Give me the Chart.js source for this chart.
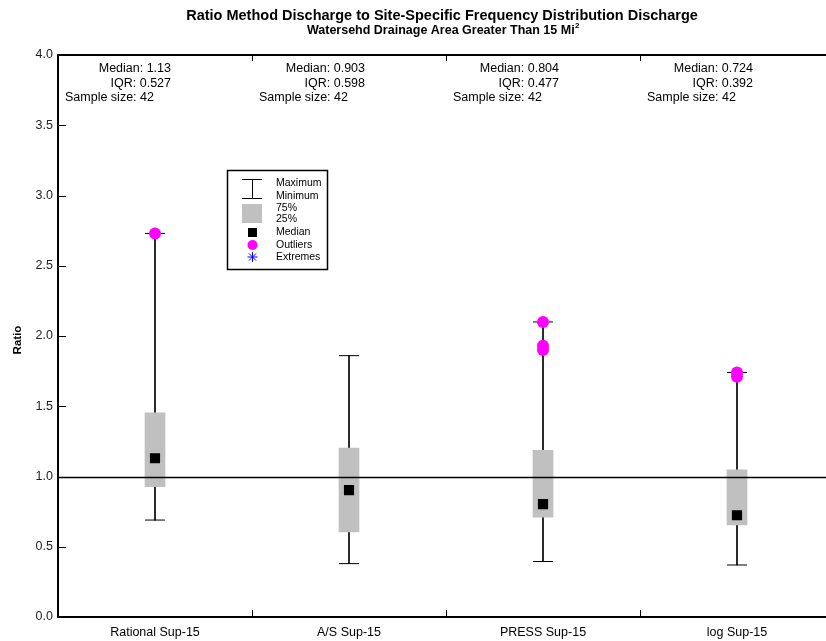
<!DOCTYPE html>
<html><head><meta charset="utf-8">
<script src="https://cdn.jsdelivr.net/npm/chart.js@4.4.0/dist/chart.umd.min.js"></script>
<style>
html,body{margin:0;padding:0;overflow:hidden;background:#fff;width:826px;height:641px}
#wrap{position:absolute;left:0;top:0;width:860px;height:641px}
</style></head>
<body><div id="wrap"><canvas id="c" width="860" height="641"></canvas></div>
<script>
const categories = ['Rational Sup-15', 'A/S Sup-15', 'PRESS Sup-15', 'log Sup-15'];
const q1Values = [0.927, 0.605, 0.710, 0.655];
const q3Values = [1.454, 1.203, 1.187, 1.047];
const medianValues = [1.13, 0.903, 0.804, 0.724];
const minValues = [0.69, 0.38, 0.395, 0.37];
const maxValues = [2.73, 1.86, 2.10, 1.74];
const outlierValues = [[2.73], [], [2.10, 1.93, 1.90], [1.74, 1.71]];
const medianLabels = ['1.13', '0.903', '0.804', '0.724'];
const iqrLabels = ['0.527', '0.598', '0.477', '0.392'];
const sampleSizes = [42, 42, 42, 42];
const yMin = 0, yMax = 4, yStep = 0.5;
const referenceValue = 1.0;
const titleText = 'Ratio Method Discharge to Site-Specific Frequency Distribution Discharge';
const subtitleText = 'Watersehd Drainage Area Greater Than 15 Mi';
const subtitleSup = '2';
const yTitle = 'Ratio';
const legendLabels = ['Maximum', 'Minimum', '75%', '25%', 'Median', 'Outliers', 'Extremes'];

const FONT = '"Liberation Sans", Arial, sans-serif';

const capData = [];
categories.forEach((c, i) => { capData.push({x: c, y: minValues[i]}); capData.push({x: c, y: maxValues[i]}); });
const outlierData = [];
categories.forEach((c, i) => outlierValues[i].forEach(v => outlierData.push({x: c, y: v})));

const decor = {
  id: 'decor',
  afterDatasetsDraw(chart) {
    const {ctx, chartArea: a, scales: {y}} = chart;
    const yy = Math.round(y.getPixelForValue(referenceValue)) + 0.5;
    ctx.save();
    ctx.strokeStyle = '#000'; ctx.lineWidth = 1.3;
    ctx.beginPath(); ctx.moveTo(a.left, yy); ctx.lineTo(a.right, yy); ctx.stroke();
    ctx.restore();
  },
  afterDraw(chart) {
    const {ctx, chartArea: a, scales: {x, y}} = chart;
    ctx.save();
    // top border
    ctx.strokeStyle = '#000'; ctx.lineWidth = 2;
    ctx.beginPath(); ctx.moveTo(a.left - 1, a.top); ctx.lineTo(a.right, a.top); ctx.stroke();
    // y inner ticks
    ctx.lineWidth = 1;
    y.ticks.forEach(t => {
      const py = Math.round(y.getPixelForValue(t.value)) + 0.5;
      ctx.beginPath(); ctx.moveTo(a.left, py); ctx.lineTo(a.left + 8, py); ctx.stroke();
    });
    // x separators (top and bottom, inner)
    const step = x.getPixelForValue(1) - x.getPixelForValue(0);
    for (let i = 0; i < categories.length - 1; i++) {
      const px = Math.round(x.getPixelForValue(i) + step / 2) + 0.5;
      ctx.beginPath(); ctx.moveTo(px, a.top); ctx.lineTo(px, a.top + 6); ctx.stroke();
      ctx.beginPath(); ctx.moveTo(px, a.bottom); ctx.lineTo(px, a.bottom - 7); ctx.stroke();
    }
    // titles
    const cx = (a.left + a.right) / 2 - 4;
    ctx.fillStyle = '#000'; ctx.textAlign = 'center'; ctx.textBaseline = 'middle';
    ctx.font = 'bold 14.5px ' + FONT;
    ctx.fillText(titleText, cx, 16);
    ctx.font = 'bold 12.5px ' + FONT;
    const sw = ctx.measureText(subtitleText).width;
    ctx.font = 'bold 8px ' + FONT;
    const supW = ctx.measureText(subtitleSup).width;
    const sx = cx + 1 - (sw + supW) / 2;
    ctx.textAlign = 'left';
    ctx.font = 'bold 12.5px ' + FONT;
    ctx.fillText(subtitleText, sx, 31);
    ctx.font = 'bold 8px ' + FONT;
    ctx.fillText(subtitleSup, sx + sw + 0.5, 26);
    // y title
    ctx.save();
    ctx.translate(18, 340); ctx.rotate(-Math.PI / 2);
    ctx.textAlign = 'center'; ctx.font = 'bold 11.5px ' + FONT;
    ctx.fillText(yTitle, 0, 0);
    ctx.restore();
    // stats
    ctx.font = '12.5px ' + FONT;
    categories.forEach((c, i) => {
      const left = x.getPixelForValue(i) - step / 2;
      ctx.textAlign = 'right';
      ctx.fillText('Median: ' + medianLabels[i], left + 113, 69);
      ctx.fillText('IQR: ' + iqrLabels[i], left + 113, 84);
      ctx.textAlign = 'left';
      ctx.fillText('Sample size: ' + sampleSizes[i], left + 7, 98);
    });
    // legend
    ctx.lineWidth = 1.5; ctx.strokeStyle = '#000';
    ctx.strokeRect(227.5, 170.5, 100, 99);
    ctx.lineWidth = 1;
    ctx.beginPath();
    ctx.moveTo(242, 179.5); ctx.lineTo(262, 179.5);
    ctx.moveTo(242, 198.5); ctx.lineTo(262, 198.5);
    ctx.moveTo(252.5, 179.5); ctx.lineTo(252.5, 198.5);
    ctx.stroke();
    ctx.fillStyle = '#c0c0c0'; ctx.fillRect(242, 204, 20, 19);
    ctx.fillStyle = '#000'; ctx.fillRect(248, 228, 9, 9);
    ctx.fillStyle = '#ff00ff'; ctx.beginPath(); ctx.arc(252.5, 245, 5, 0, Math.PI * 2); ctx.fill();
    ctx.strokeStyle = '#0000ff'; ctx.lineWidth = 1;
    ctx.beginPath();
    const ax = 252.5, ay = 257;
    ctx.moveTo(ax - 5, ay); ctx.lineTo(ax + 5, ay);
    ctx.moveTo(ax, ay - 5); ctx.lineTo(ax, ay + 5);
    ctx.moveTo(ax - 3.6, ay - 3.6); ctx.lineTo(ax + 3.6, ay + 3.6);
    ctx.moveTo(ax - 3.6, ay + 3.6); ctx.lineTo(ax + 3.6, ay - 3.6);
    ctx.stroke();
    ctx.fillStyle = '#000'; ctx.textAlign = 'left'; ctx.font = '10.5px ' + FONT;
    const ly = [183, 196, 208.5, 219.5, 232, 245, 257];
    legendLabels.forEach((t, i) => ctx.fillText(t, 276, ly[i]));
    ctx.restore();
  }
};

new Chart(document.getElementById('c'), {
  type: 'bar',
  data: {
    labels: categories,
    datasets: [
      {type: 'bar', data: categories.map((c, i) => [minValues[i], maxValues[i]]), backgroundColor: '#000', barThickness: 1, grouped: false, order: 5, borderWidth: 0},
      {type: 'bar', data: categories.map((c, i) => [q1Values[i], q3Values[i]]), backgroundColor: '#c0c0c0', barThickness: 20, grouped: false, order: 4, borderWidth: 0},
      {type: 'line', data: capData, showLine: false, pointStyle: 'line', pointRadius: 10, pointBorderColor: '#000', pointBorderWidth: 1, order: 3},
      {type: 'line', data: medianValues, showLine: false, pointStyle: 'rect', pointRadius: 7.2, pointBackgroundColor: '#000', pointBorderWidth: 0, order: 2},
      {type: 'line', data: outlierData, showLine: false, pointStyle: 'circle', pointRadius: 6, pointBackgroundColor: '#ff00ff', pointBorderWidth: 0, order: 1}
    ]
  },
  options: {
    responsive: false, animation: false, devicePixelRatio: 1,
    layout: {padding: {top: 55, right: 26, left: 0, bottom: 0}},
    plugins: {legend: {display: false}, tooltip: {enabled: false}},
    scales: {
      x: {
        type: 'category', offset: true,
        grid: {display: false, drawTicks: false, tickLength: 0},
        border: {display: true, width: 2, color: '#000'},
        ticks: {color: '#000', font: {family: FONT, size: 12.5}, padding: 8},
        afterFit: s => { s.height = 24; }
      },
      y: {
        min: yMin, max: yMax,
        grid: {display: false, drawTicks: false, tickLength: 0},
        border: {display: true, width: 2, color: '#000'},
        ticks: {stepSize: yStep, color: '#222', font: {family: FONT, size: 12.5}, padding: 5, callback: v => Number(v).toFixed(1)},
        afterFit: s => { s.width = 58; }
      }
    }
  },
  plugins: [decor]
});
</script>
</body></html>
